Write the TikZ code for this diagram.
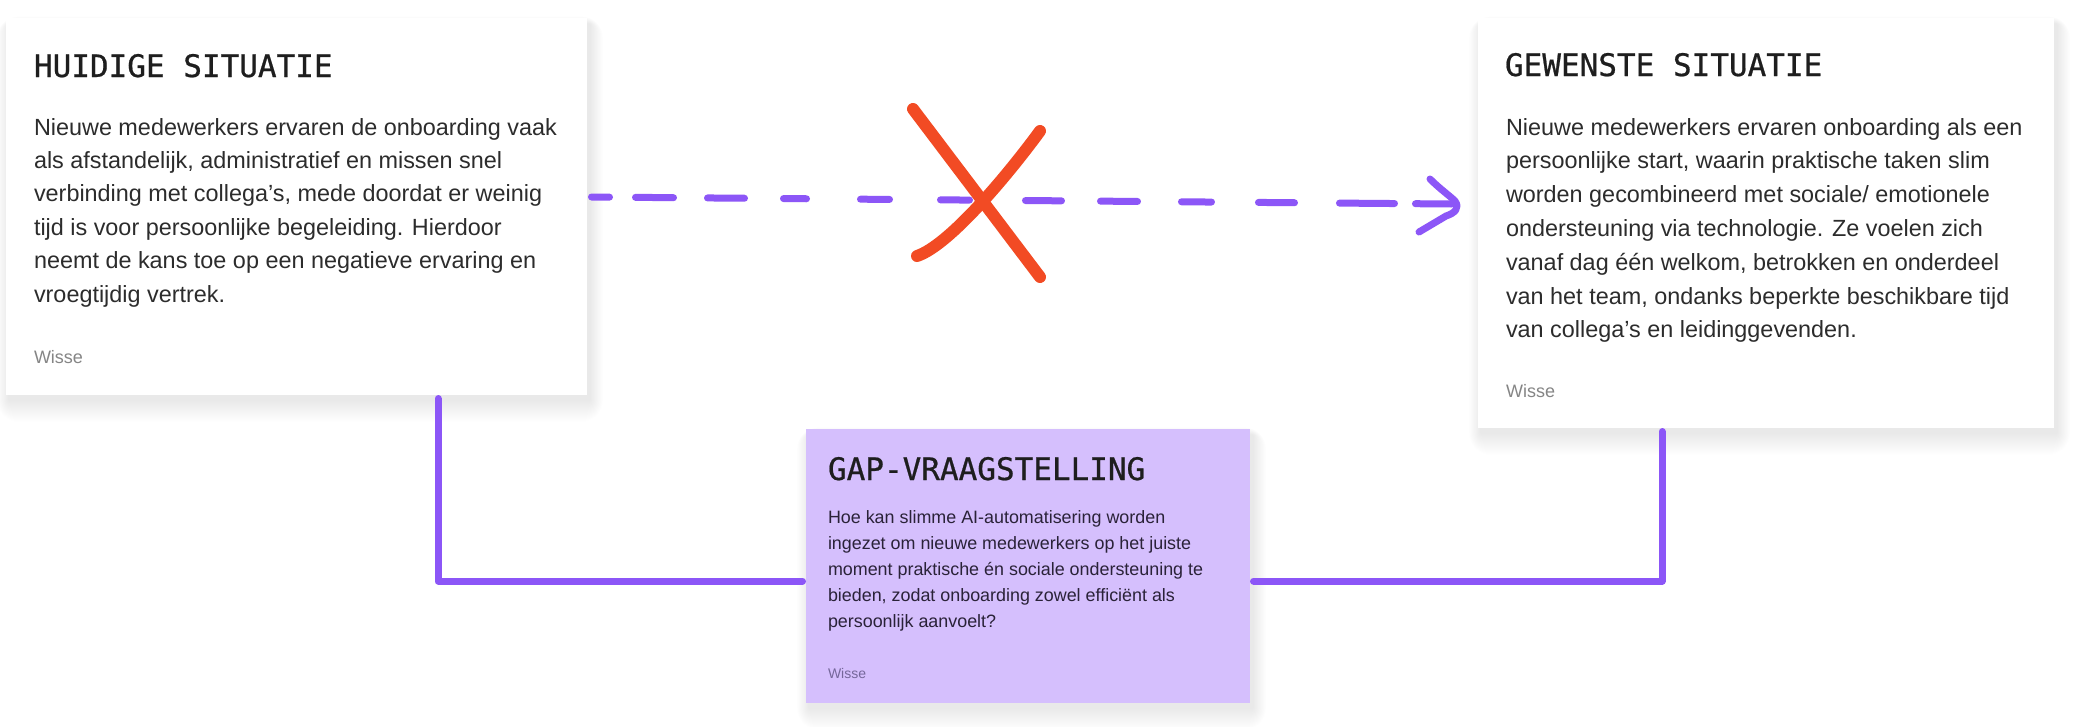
\documentclass[tikz,border=0pt]{standalone}
\usepackage{fontspec}
\setmainfont{Liberation Sans}
\newfontfamily\titlefont[FakeBold=0.7]{DejaVu Sans Mono}
\usetikzlibrary{calc,backgrounds}
\definecolor{purp}{HTML}{8C56F7}
\definecolor{lav}{HTML}{D5BFFD}
\definecolor{redx}{HTML}{F24B24}
\definecolor{titlec}{HTML}{1E1E1E}
\definecolor{bodyc}{HTML}{2C2C2C}
\definecolor{wissec}{HTML}{858585}
\definecolor{gapbody}{HTML}{2A2238}
\definecolor{gapwisse}{HTML}{75679A}
\tikzset{
  card/.style={fill=white, draw=none, inner sep=0pt, outer sep=0pt, anchor=north west},
  gapcard/.style={card, fill=lav},
  txt/.style={anchor=base west, inner sep=0pt, outer sep=0pt},
  conn/.style={draw=purp, line width=7pt, line cap=round, line join=round},
  dashpen/.style={draw=purp, line width=7pt, line cap=round},
  xpen/.style={draw=redx, line width=12pt, line cap=round, line join=round},
}
\newcommand{\ttl}[1]{{\titlefont\fontsize{31}{31}\selectfont\color{titlec}#1}}
\newcommand{\cardshadow}[1]{%
  \foreach \i in {1,...,22}{%
    \fill[black, opacity=0.0055, rounded corners=\i pt]
      ($(#1.north west)+(3-0.55*\i, 6-0.35*\i)$) rectangle ($(#1.south east)+(3+0.6*\i, 5+1.0*\i)$);
  }}
\begin{document}
\begin{tikzpicture}[x=1pt,y=-1pt]
\useasboundingbox (0,0) rectangle (2085,726);

% cards
\node[card, minimum width=581pt, minimum height=377pt] (L) at (6,18) {};
\node[card, minimum width=576pt, minimum height=410pt] (R) at (1478,18) {};
\node[gapcard, minimum width=444pt, minimum height=274pt] (G) at (806,429) {};

\begin{pgfonlayer}{background}
  \fill[white] (0,0) rectangle (2085,726);
  \cardshadow{L}
  \cardshadow{R}
  \cardshadow{G}
\end{pgfonlayer}

% left card text
\node[txt] (Lt) at (34,77) {\ttl{HUIDIGE SITUATIE}};
\node[txt, text=bodyc] (Lb) at (34,135) {\parbox[t]{600pt}{\fontsize{23.4}{33.4}\selectfont
Nieuwe medewerkers ervaren de onboarding vaak\\
als afstandelijk, administratief en missen snel\\
verbinding met collega’s, mede doordat er weinig\\
tijd is voor persoonlijke begeleiding. Hierdoor\\
neemt de kans toe op een negatieve ervaring en\\
vroegtijdig vertrek.}};
\node[txt, text=wissec] (Lw) at (34,363) {\fontsize{18}{18}\selectfont Wisse};

% right card text
\node[txt] (Rt) at (1505,76) {\ttl{GEWENSTE SITUATIE}};
\node[txt, text=bodyc] (Rb) at (1506,135) {\parbox[t]{600pt}{\fontsize{23.4}{33.8}\selectfont
Nieuwe medewerkers ervaren onboarding als een\\
persoonlijke start, waarin praktische taken slim\\
worden gecombineerd met sociale/ emotionele\\
ondersteuning via technologie. Ze voelen zich\\
vanaf dag één welkom, betrokken en onderdeel\\
van het team, ondanks beperkte beschikbare tijd\\
van collega’s en leidinggevenden.}};
\node[txt, text=wissec] (Rw) at (1506,397) {\fontsize{18}{18}\selectfont Wisse};

% connectors (solid)
\coordinate (lx) at (438,581);
\coordinate (rx) at (1662,581);
\draw[conn] ($(L.south -| lx)+(0,3.5)$) |- ($(G.west |- lx)+(-3.5,0)$);
\draw[conn] ($(G.east |- rx)+(3.5,0)$) -| ($(R.south -| rx)+(0,3.5)$);

% gap card text
\node[txt] (Gt) at (828,480) {\ttl{GAP-VRAAGSTELLING}};
\node[txt, text=gapbody] (Gb) at (828,523) {\parbox[t]{420pt}{\fontsize{17.9}{26}\selectfont
Hoe kan slimme AI-automatisering worden\\
ingezet om nieuwe medewerkers op het juiste\\
moment praktische én sociale ondersteuning te\\
bieden, zodat onboarding zowel efficiënt als\\
persoonlijk aanvoelt?}};
\node[txt, text=gapwisse] (Gw) at (828,678) {\fontsize{14}{14}\selectfont Wisse};

% dashed hand-drawn arrow
\coordinate (ds) at (591.5,197);
\coordinate (de) at (1451.5,204);
\draw[dashpen, dash pattern=on 18pt off 26pt on 38pt off 34pt on 37pt off 39pt on 23pt off 54pt on 29pt off 51pt on 29pt off 56pt on 36pt off 39pt on 37pt off 44pt on 30pt off 47pt on 36pt off 45pt on 55pt off 21pt on 36pt off 200pt] (ds) -- (de);
\draw[conn] (1430,179) .. controls (1440,189) and (1450,196) .. (1455,201)
  .. controls (1460,208) and (1455,213) .. (1446,216) -- (1419,232);

% red cross
\draw[xpen] (913,109) -- (1040,277);
\draw[xpen] (1040,131) .. controls (1010,172) and (950,245) .. (917,256);
\end{tikzpicture}
\end{document}
